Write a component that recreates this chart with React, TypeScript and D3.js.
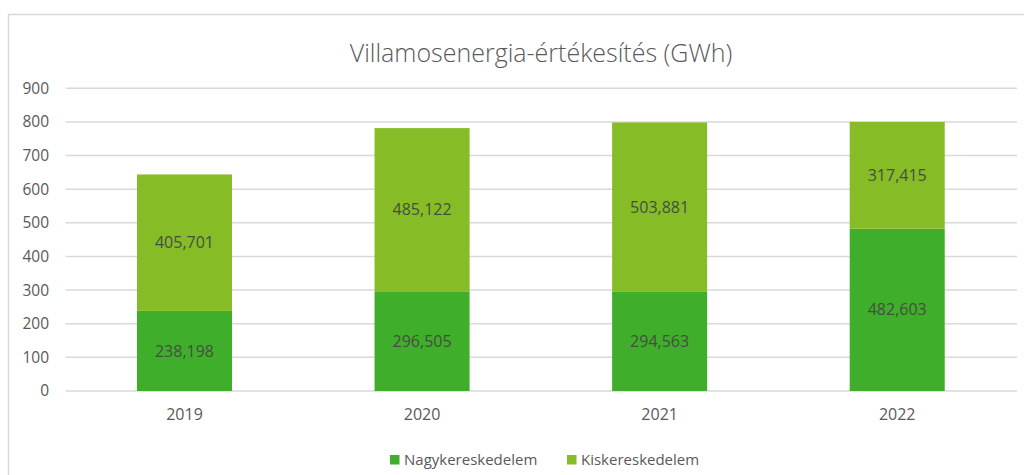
import React from "react";
import * as d3 from "d3";

const categories = ["2019", "2020", "2021", "2022"];
const wholesale = [238.198, 296.505, 294.563, 482.603];
const retail = [405.701, 485.122, 503.881, 317.415];
const seriesNames = ["Nagykereskedelem", "Kiskereskedelem"];
const seriesColors = ["#3FAE2A", "#86BC25"];
const yTicks = [0, 100, 200, 300, 400, 500, 600, 700, 800, 900];
const title = "Villamosenergia-értékesítés (GWh)";

const W = 1024;
const H = 475;
const FONT = "'Open Sans', 'Noto Sans', sans-serif";

const fmt = (v: number) => v.toFixed(3).replace(".", ",");

export default function App() {
  const x = d3.scaleBand<string>().domain(categories).range([65.7, 1016]).paddingInner(0.6).paddingOuter(0.3);
  const y = d3.scaleLinear().domain([0, 900]).range([391, 88.3]);

  const rows = categories.map((c, i) => ({ cat: c, Nagykereskedelem: wholesale[i], Kiskereskedelem: retail[i] }));
  const stacked = d3.stack<any>().keys(seriesNames)(rows);

  return (
    <svg width={W} height={H} style={{ position: "absolute", left: 0, top: 0, background: "#fff" }}>
      <rect x={0} y={0} width={W} height={H} fill="#fff" />
      <rect x={8.5} y={14.5} width={1200} height={1000} fill="none" stroke="#d9d9d9" strokeWidth={1.5} />
      <text x={541} y={62} textAnchor="middle" fontFamily={FONT} fontWeight={300} fontSize={25} fill="#595959">
        {title}
      </text>
      {yTicks.map((t) => (
        <g key={t}>
          <line x1={65.7} x2={1017} y1={y(t)} y2={y(t)} stroke="#d9d9d9" strokeWidth={1.5} />
          <text x={49} y={y(t)} dy="0.35em" textAnchor="end" fontFamily={FONT} fontSize={15.5} fill="#595959">
            {t}
          </text>
        </g>
      ))}
      {stacked.map((s, si) => (
        <g key={s.key}>
          {s.map((d: any, i: number) => {
            const x0 = x(categories[i])!;
            const top = y(d[1]);
            const bot = y(d[0]);
            return (
              <g key={i}>
                <rect x={x0} y={top} width={x.bandwidth()} height={bot - top} fill={seriesColors[si]} />
                <text
                  x={x0 + x.bandwidth() / 2}
                  y={(top + bot) / 2}
                  dy="0.35em"
                  textAnchor="middle"
                  fontFamily={FONT}
                  fontSize={16}
                  fill="#454f40"
                >
                  {fmt(d[1] - d[0])}
                </text>
              </g>
            );
          })}
        </g>
      ))}
      {categories.map((c) => (
        <text key={c} x={x(c)! + x.bandwidth() / 2} y={414} dy="0.35em" textAnchor="middle" fontFamily={FONT} fontSize={16} fill="#595959">
          {c}
        </text>
      ))}
      <g>
        <rect x={390} y={455} width={9.5} height={9.5} fill={seriesColors[0]} />
        <text x={404} y={460} dy="0.35em" fontFamily={FONT} fontSize={15} fill="#595959">
          {seriesNames[0]}
        </text>
        <rect x={567} y={455} width={9.5} height={9.5} fill={seriesColors[1]} />
        <text x={581} y={460} dy="0.35em" fontFamily={FONT} fontSize={15} fill="#595959">
          {seriesNames[1]}
        </text>
      </g>
    </svg>
  );
}
